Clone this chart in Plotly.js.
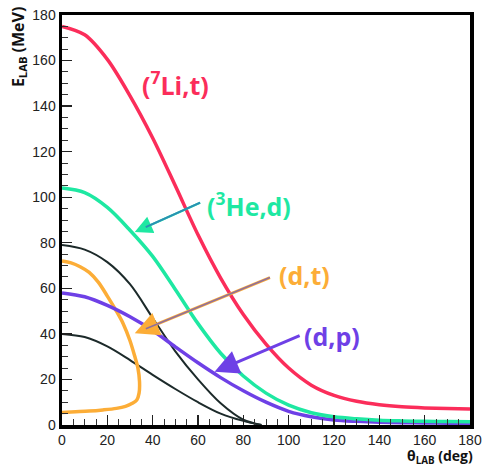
<!DOCTYPE html>
<html>
<head>
<meta charset="utf-8">
<script src="https://cdn.plot.ly/plotly-3.0.1.min.js"></script>
<style>html,body{margin:0;padding:0;background:#fff;}#chart{width:487px;height:468px;}</style>
</head>
<body>
<div id="chart"></div>
<script>
// (7Li,t)
const liX = [0, 10, 20, 30, 40, 50, 60, 70, 80, 90, 100, 110, 120, 130, 140, 150, 160, 170, 180];
const liY = [175, 171.3, 160.5, 144.5, 126, 105, 83.5, 64.5, 48.5, 35.5, 25, 17.5, 13, 10.4, 8.9, 8, 7.5, 7.2, 7];
// (3He,d)
const heX = [0, 10, 20, 30, 40, 50, 60, 70, 80, 90, 100, 110, 120, 130, 140, 150, 160, 170, 180];
const heY = [104, 102, 95.5, 85.5, 74, 59.5, 44.5, 31.5, 21.5, 14, 8.7, 5.4, 3.6, 2.7, 2.1, 1.8, 1.6, 1.5, 1.4];
// (d,p)
const dpX = [0, 10, 20, 30, 40, 50, 60, 70, 80, 90, 100, 110, 120, 130, 140, 150, 160, 170, 180];
const dpY = [58, 56.3, 52.5, 47.5, 41.5, 34.3, 27.3, 20.8, 15, 10, 6, 3.6, 2.2, 1.6, 1.2, 1.0, 0.9, 0.8, 0.8];
// (d,t) loop
const dtX = [0, 4, 8, 12, 16, 20, 24, 27, 30, 32, 33.5, 34.2, 34, 33, 31, 28, 24, 18, 12, 6, 0];
const dtY = [72, 71.2, 69.5, 67, 62.7, 56.6, 50, 44.5, 37, 30.5, 25, 19, 14, 11, 9.5, 8.2, 7.3, 6.6, 6.1, 5.8, 5.5];
// black curves
const bkAX = [0, 10, 20, 30, 40, 50, 60, 70, 80, 88];
const bkAY = [79, 77, 71.5, 61.8, 47, 32.3, 20, 9.5, 2.3, 0];
const bkBX = [0, 10, 20, 30, 40, 50, 60, 70, 80, 88];
const bkBY = [40, 38.6, 34.5, 28.5, 22, 15.8, 10, 5, 1.8, 0];

const xTicks = [0, 20, 40, 60, 80, 100, 120, 140, 160, 180];
const yTicks = [0, 20, 40, 60, 80, 100, 120, 140, 160, 180];

const RED = '#fb2d5a', GREEN = '#1ee8a2', PURPLE = '#6e40e6', ORANGE = '#fcad37', BLACK = '#1c2a2a';

function tr(x, y, color, w) {
  return {x: x, y: y, mode: 'lines', type: 'scatter', hoverinfo: 'skip',
    line: {color: color, width: w, shape: 'spline', smoothing: 0.9}};
}
const traces = [
  tr(bkAX, bkAY, BLACK, 2),
  tr(bkBX, bkBY, BLACK, 2),
  tr(dtX, dtY, ORANGE, 3.5),
  tr(dpX, dpY, PURPLE, 3.5),
  tr(heX, heY, GREEN, 3.5),
  tr(liX, liY, RED, 3.5)
];

const labFont = {family: 'Open Sans, sans-serif', size: 25, weight: 700};
function label(text, x, y, color) {
  return {text: text, x: x, y: y, xref: 'x', yref: 'y', showarrow: false,
    font: Object.assign({}, labFont, {color: color}), xanchor: 'center', yanchor: 'middle'};
}
function arrow(x, y, ax, ay, color, w, head) {
  return {text: '', x: x, y: y, ax: ax, ay: ay, xref: 'x', yref: 'y', axref: 'x', ayref: 'y',
    showarrow: true, arrowcolor: color, arrowwidth: w, arrowhead: head ? 2 : 0,
    arrowsize: head ? 1.6 : 1, arrowside: head ? 'end' : 'none', standoff: 0};
}
function lineOnly(x, y, ax, ay, color, w, so) {
  const a = arrow(x, y, ax, ay, color, w, false);
  a.standoff = so;
  return a;
}

const annotations = [
  label('(<sup>7</sup>Li,t)', 50.2, 150, RED),
  label('(<sup>3</sup>He,d)', 82.7, 97, GREEN),
  label('(d,t)', 106.9, 66, ORANGE),
  label('(d,p)', 119.3, 39.2, PURPLE),
  arrow(32.1, 84.7, 61.6, 97.9, GREEN, 2.2, true),
  lineOnly(32.1, 84.7, 61.6, 97.9, '#2b8fb5', 2, 12),
  arrow(32.1, 40.3, 92.4, 65, ORANGE, 3, true),
  lineOnly(32.1, 40.3, 92.4, 65, '#8f6f9c', 1.6, 12),
  arrow(67.3, 23.4, 105.5, 39.5, PURPLE, 3, true),
  {text: 'E<sub>LAB</sub> (MeV)', xref: 'paper', yref: 'paper', x: -0.107, y: 1.025,
    xanchor: 'center', yanchor: 'top', textangle: -90, showarrow: false,
    font: {family: 'Open Sans, sans-serif', size: 16, weight: 700, color: '#111'}},
  {text: 'θ<sub>LAB</sub> (deg)', xref: 'paper', yref: 'paper', x: 1.01, y: -0.106,
    xanchor: 'right', yanchor: 'bottom', showarrow: false, borderpad: 0,
    font: {family: 'Open Sans, sans-serif', size: 14, weight: 700, color: '#111'}}
];

const axisCommon = {
  range: [0, 180], showgrid: false, zeroline: false,
  showline: true, linecolor: '#000', linewidth: 3.5, mirror: true,
  ticks: 'inside', ticklen: 10, tickwidth: 1.3, tickcolor: '#222',
  tickfont: {family: 'Liberation Sans, Arial, sans-serif', size: 14, color: '#222'},
  minor: {dtick: 5, ticks: 'inside', ticklen: 6, tickwidth: 1, tickcolor: '#333'},
  fixedrange: true
};

const layout = {
  width: 487, height: 468,
  margin: {l: 62, r: 17, t: 15, b: 43},
  paper_bgcolor: '#fff', plot_bgcolor: '#fff',
  showlegend: false,
  xaxis: Object.assign({}, axisCommon, {tickmode: 'array', tickvals: xTicks, ticktext: xTicks.map(String)}),
  yaxis: Object.assign({}, axisCommon, {tickmode: 'array', tickvals: yTicks, ticktext: yTicks.map(String)}),
  annotations: annotations
};

Plotly.newPlot('chart', traces, layout, {staticPlot: true, displayModeBar: false});
</script>
</body>
</html>
